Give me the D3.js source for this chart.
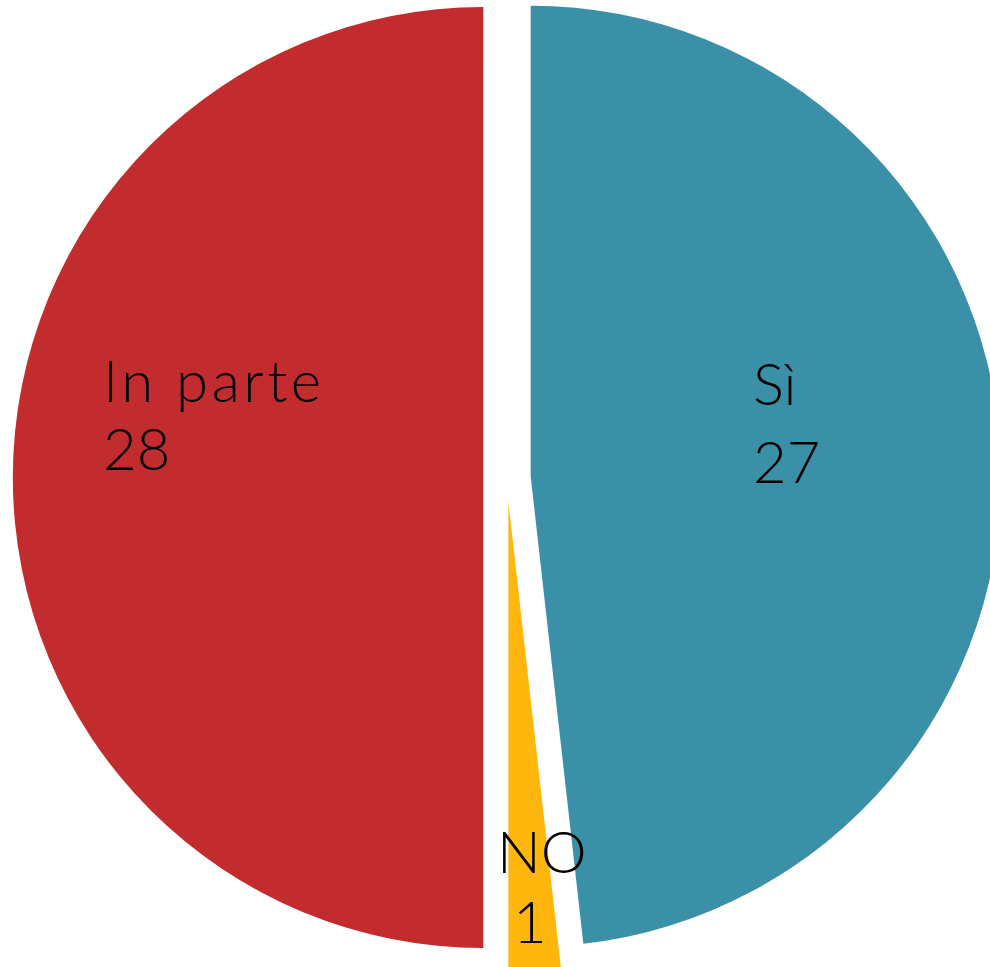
<!DOCTYPE html>
<html>
<head>
<meta charset="utf-8">
<script src="https://cdn.jsdelivr.net/npm/d3@7"></script>
<style>
  html, body { margin: 0; padding: 0; background: #fff; overflow: hidden; }
  svg { display: block; }
</style>
</head>
<body>
<div id="chart"></div>
<script>
// DATA
// ---------------------------------------------------------------
const categories = ["Sì", "NO", "In parte"];
const values = [27, 1, 28];
const colors = ["#3A91A7", "#FFB60D", "#C22C2F"];

// SIZES
// ---------------------------------------------------------------
const width = 990, height = 967;
const cx = 507, cy = 477.5;
const radius = 470.5;
const explode = 23.7;

// label offsets from pie centre (x = left edge of text, y = first baseline)
const labelPos = [
  { dx: 246, dy: -73, dx2: 246, lh: 78, ls: 0 },
  { dx: -10, dy: 395, dx2: 6, lh: 70, ls: 0 },
  { dx: -404, dy: -76, dx2: -404, lh: 68, ls: 3.6 }
];

const svg = d3.select("#chart").append("svg")
  .attr("width", width)
  .attr("height", height);

const g = svg.append("g").attr("transform", `translate(${cx},${cy})`);

const pie = d3.pie().sort(null).value(d => d.value);
const arc = d3.arc().innerRadius(0).outerRadius(radius);

const data = pie(categories.map((c, i) => ({ name: c, value: values[i] })));

// SLICES (exploded)
// ---------------------------------------------------------------
const slices = g.selectAll("g.slice")
  .data(data)
  .enter().append("g")
  .attr("class", "slice")
  .attr("transform", d => {
    const a = (d.startAngle + d.endAngle) / 2;
    return `translate(${Math.sin(a) * explode},${-Math.cos(a) * explode})`;
  });

slices.append("path")
  .attr("d", arc)
  .style("fill", (d, i) => colors[i]);

// LABELS
// ---------------------------------------------------------------
const labels = g.selectAll("text.lbl")
  .data(data)
  .enter().append("text")
  .attr("class", "lbl")
  .attr("x", (d, i) => labelPos[i].dx)
  .attr("y", (d, i) => labelPos[i].dy)
  .style("font-family", "Lato, 'DejaVu Sans', sans-serif")
  .style("font-weight", 300)
  .style("font-size", "58px")
  .style("fill", "#000");

labels.append("tspan")
  .attr("x", (d, i) => labelPos[i].dx)
  .style("letter-spacing", (d, i) => labelPos[i].ls + "px")
  .text(d => d.data.name);

labels.append("tspan")
  .attr("x", (d, i) => labelPos[i].dx2)
  .attr("dy", (d, i) => labelPos[i].lh)
  .text(d => d.data.value);
</script>
</body>
</html>
